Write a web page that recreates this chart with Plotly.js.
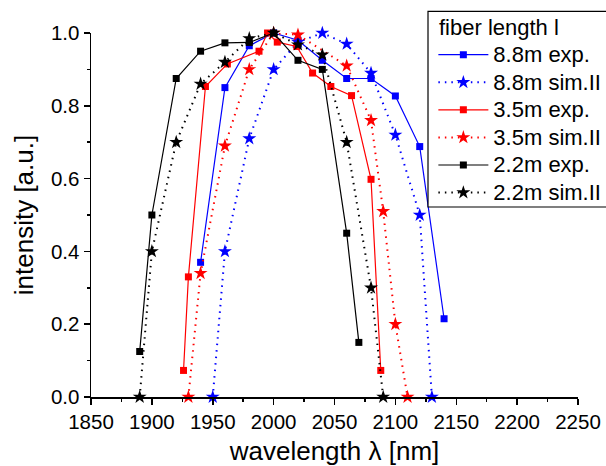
<!DOCTYPE html>
<html>
<head>
<meta charset="utf-8">
<script src="https://cdn.plot.ly/plotly-3.0.1.min.js"></script>
<style>html,body{margin:0;padding:0;background:#fff;}#chart{width:606px;height:466px;}</style>
</head>
<body>
<div id="chart"></div>
<script>
// 8.8 m fiber, experiment
const exp88_x = [1940, 1960, 1980, 2000, 2020, 2040, 2060, 2080, 2100, 2120, 2140];
const exp88_y = [0.37, 0.85, 0.965, 1.0, 0.98, 0.925, 0.875, 0.875, 0.827, 0.688, 0.215];
// 8.8 m fiber, simulation II
const sim88_x = [1950, 1960, 1980, 2000, 2020, 2040, 2060, 2080, 2100, 2120, 2130];
const sim88_y = [0.0, 0.40, 0.71, 0.90, 0.975, 1.0, 0.97, 0.89, 0.72, 0.50, 0.0];
// 3.5 m fiber, experiment
const exp35_x = [1926, 1930, 1944, 1962, 1988, 1995, 2003, 2019, 2032, 2047, 2064, 2080, 2088];
const exp35_y = [0.073, 0.33, 0.853, 0.915, 0.95, 1.0, 0.975, 0.963, 0.89, 0.853, 0.828, 0.598, 0.073];
// 3.5 m fiber, simulation II
const sim35_x = [1930, 1940, 1960, 1980, 2000, 2020, 2060, 2080, 2090, 2100, 2110];
const sim35_y = [0.0, 0.34, 0.69, 0.90, 1.0, 0.995, 0.91, 0.76, 0.51, 0.20, 0.0];
// 2.2 m fiber, experiment
const exp22_x = [1890, 1900, 1920, 1940, 1960, 1980, 2000, 2020, 2040, 2060, 2070];
const exp22_y = [0.125, 0.50, 0.875, 0.95, 0.973, 0.974, 1.0, 0.925, 0.90, 0.45, 0.15];
// 2.2 m fiber, simulation II
const sim22_x = [1890, 1900, 1920, 1940, 1960, 1980, 2000, 2020, 2040, 2060, 2080, 2090];
const sim22_y = [0.0, 0.40, 0.70, 0.86, 0.92, 0.985, 1.0, 0.968, 0.94, 0.70, 0.30, 0.0];

const names = ['8.8m exp.', '8.8m sim.II', '3.5m exp.', '3.5m sim.II', '2.2m exp.', '2.2m sim.II'];
const legendTitle = 'fiber length l';
const FONT = 'Arial, "Liberation Sans", sans-serif';

function label(s) { return '<span style="font-size:22px">' + s + '</span>'; }

function expTrace(x, y, color, name) {
  return {x: x, y: y, name: label(name), type: 'scatter', mode: 'lines+markers', cliponaxis: false,
    line: {color: color, width: 1.2},
    marker: {symbol: 'square', size: 7, color: color}};
}
function simTrace(x, y, color, name) {
  return {x: x, y: y, name: label(name), type: 'scatter', mode: 'lines+markers', cliponaxis: false,
    line: {color: color, width: 2, dash: '1.5px,5px'},
    marker: {symbol: 'star', size: 10.5, color: color, line: {width: 0}}};
}

const data = [
  expTrace(exp88_x, exp88_y, '#0000ff', names[0]),
  simTrace(sim88_x, sim88_y, '#0000ff', names[1]),
  expTrace(exp35_x, exp35_y, '#ff0000', names[2]),
  simTrace(sim35_x, sim35_y, '#ff0000', names[3]),
  expTrace(exp22_x, exp22_y, '#000000', names[4]),
  simTrace(sim22_x, sim22_y, '#000000', names[5])
];

const layout = {
  width: 606, height: 466,
  margin: {l: 91, r: 28, t: 33, b: 69, autoexpand: false},
  paper_bgcolor: '#fff', plot_bgcolor: '#fff',
  font: {family: FONT, color: '#000', size: 20},
  showlegend: true,
  legend: {
    x: 0.703, y: 0.992, xanchor: 'left', yanchor: 'top',
    bgcolor: 'rgba(0,0,0,0)', borderwidth: 0,
    font: {family: FONT, size: 18.9, color: '#000'},
    itemwidth: 50, tracegroupgap: 0
  },
  shapes: [{
    type: 'rect', xref: 'paper', yref: 'paper', layer: 'above',
    x0: 0.692, x1: 1.2, y0: 0.522, y1: 1.0594,
    line: {color: '#000', width: 1.2}, fillcolor: '#fff'
  }],
  annotations: [{
    text: legendTitle, xref: 'paper', yref: 'paper', x: 0.7095, y: 1.0146,
    xanchor: 'left', yanchor: 'middle', showarrow: false,
    font: {family: FONT, size: 22, color: '#000'}
  }],
  xaxis: {
    range: [1850, 2250], tickmode: 'linear', tick0: 1850, dtick: 50,
    showline: true, linecolor: '#000', linewidth: 1.5, mirror: false,
    ticks: 'outside', ticklen: 6, tickwidth: 1.5, tickcolor: '#000',
    minor: {dtick: 25, ticks: 'outside', ticklen: 3, tickwidth: 1.5, tickcolor: '#000'},
    showgrid: false, zeroline: false,
    tickfont: {family: FONT, size: 20.5, color: '#000'},
    title: {text: 'wavelength λ [nm]', font: {family: FONT, size: 26, color: '#000'}, standoff: 10}
  },
  yaxis: {
    range: [0, 1], tickmode: 'linear', tick0: 0, dtick: 0.2, tickformat: '.1f',
    showline: true, linecolor: '#000', linewidth: 1.5, mirror: false,
    ticks: 'outside', ticklen: 6, tickwidth: 1.5, tickcolor: '#000',
    minor: {dtick: 0.1, ticks: 'outside', ticklen: 3, tickwidth: 1.5, tickcolor: '#000'},
    showgrid: false, zeroline: false,
    tickfont: {family: FONT, size: 20.5, color: '#000'},
    title: {text: 'intensity [a.u.]', font: {family: FONT, size: 26, color: '#000'}, standoff: 10}
  }
};

Plotly.newPlot('chart', data, layout, {displayModeBar: false, staticPlot: true});
</script>
</body>
</html>
